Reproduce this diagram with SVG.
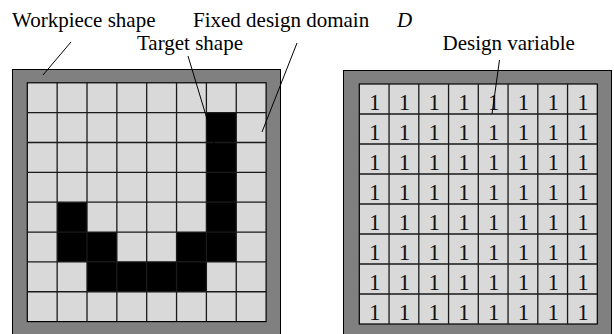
<svg xmlns="http://www.w3.org/2000/svg" width="614" height="334" viewBox="0 0 614 334">
<style>
text{font-family:'Liberation Serif',serif}
.lbl{font-size:21px;fill:#000}
.num{font-size:23px;fill:#111;text-anchor:middle}
.frame{fill:#808080;stroke:#000;stroke-width:1}
.cells{fill:#d9d9d9;stroke:#000;stroke-width:1.2}
.grid{fill:none;stroke:#1a1a1a;stroke-width:1.3}
.blk{fill:#000}
.lead{fill:none;stroke:#000;stroke-width:1}
</style>
<rect width="614" height="334" fill="#fff"/>
<g id="workpiece-domain">
  <rect class="frame" x="12.5" y="69.5" width="268" height="272"/>
  <g transform="translate(27.3,82.8)">
    <rect class="cells" x="0" y="0" width="238.8" height="238.8"/>
    <g id="target-shape">
      <rect class="blk" x="179.1" y="29.85" width="29.85" height="149.25"/>
      <rect class="blk" x="29.85" y="119.4" width="29.85" height="59.7"/>
      <rect class="blk" x="59.7" y="149.25" width="29.85" height="29.85"/>
      <rect class="blk" x="149.25" y="149.25" width="29.85" height="29.85"/>
      <rect class="blk" x="59.7" y="179.1" width="119.4" height="29.85"/>
    </g>
    <path class="grid" d="M29.85 0V238.8M59.7 0V238.8M89.55 0V238.8M119.4 0V238.8M149.25 0V238.8M179.1 0V238.8M208.95 0V238.8M0 29.85H238.8M0 59.7H238.8M0 89.55H238.8M0 119.4H238.8M0 149.25H238.8M0 179.1H238.8M0 208.95H238.8"/>
  </g>
</g>
<g id="design-variables">
  <rect class="frame" x="343.5" y="70.5" width="268" height="272"/>
  <g transform="translate(359.3,84)">
    <rect class="cells" x="0" y="0" width="238" height="240"/>
    <path class="grid" d="M29.75 0V240M59.5 0V240M89.25 0V240M119 0V240M148.75 0V240M178.5 0V240M208.25 0V240M0 30H238M0 60H238M0 90H238M0 120H238M0 150H238M0 180H238M0 210H238"/>
    <g id="values">
      <text class="num" x="15.4" y="26">1</text><text class="num" x="45.15" y="26">1</text><text class="num" x="74.9" y="26">1</text><text class="num" x="104.65" y="26">1</text><text class="num" x="134.4" y="26">1</text><text class="num" x="164.15" y="26">1</text><text class="num" x="193.9" y="26">1</text><text class="num" x="223.65" y="26">1</text>
      <text class="num" x="15.4" y="56">1</text><text class="num" x="45.15" y="56">1</text><text class="num" x="74.9" y="56">1</text><text class="num" x="104.65" y="56">1</text><text class="num" x="134.4" y="56">1</text><text class="num" x="164.15" y="56">1</text><text class="num" x="193.9" y="56">1</text><text class="num" x="223.65" y="56">1</text>
      <text class="num" x="15.4" y="86">1</text><text class="num" x="45.15" y="86">1</text><text class="num" x="74.9" y="86">1</text><text class="num" x="104.65" y="86">1</text><text class="num" x="134.4" y="86">1</text><text class="num" x="164.15" y="86">1</text><text class="num" x="193.9" y="86">1</text><text class="num" x="223.65" y="86">1</text>
      <text class="num" x="15.4" y="116">1</text><text class="num" x="45.15" y="116">1</text><text class="num" x="74.9" y="116">1</text><text class="num" x="104.65" y="116">1</text><text class="num" x="134.4" y="116">1</text><text class="num" x="164.15" y="116">1</text><text class="num" x="193.9" y="116">1</text><text class="num" x="223.65" y="116">1</text>
      <text class="num" x="15.4" y="146">1</text><text class="num" x="45.15" y="146">1</text><text class="num" x="74.9" y="146">1</text><text class="num" x="104.65" y="146">1</text><text class="num" x="134.4" y="146">1</text><text class="num" x="164.15" y="146">1</text><text class="num" x="193.9" y="146">1</text><text class="num" x="223.65" y="146">1</text>
      <text class="num" x="15.4" y="176">1</text><text class="num" x="45.15" y="176">1</text><text class="num" x="74.9" y="176">1</text><text class="num" x="104.65" y="176">1</text><text class="num" x="134.4" y="176">1</text><text class="num" x="164.15" y="176">1</text><text class="num" x="193.9" y="176">1</text><text class="num" x="223.65" y="176">1</text>
      <text class="num" x="15.4" y="206">1</text><text class="num" x="45.15" y="206">1</text><text class="num" x="74.9" y="206">1</text><text class="num" x="104.65" y="206">1</text><text class="num" x="134.4" y="206">1</text><text class="num" x="164.15" y="206">1</text><text class="num" x="193.9" y="206">1</text><text class="num" x="223.65" y="206">1</text>
      <text class="num" x="15.4" y="236">1</text><text class="num" x="45.15" y="236">1</text><text class="num" x="74.9" y="236">1</text><text class="num" x="104.65" y="236">1</text><text class="num" x="134.4" y="236">1</text><text class="num" x="164.15" y="236">1</text><text class="num" x="193.9" y="236">1</text><text class="num" x="223.65" y="236">1</text>
    </g>
  </g>
</g>
<g id="label-workpiece"><text class="lbl" x="12" y="27">Workpiece shape</text></g>
<g id="label-fixed"><text class="lbl" x="193" y="27">Fixed design domain</text><text class="lbl" x="397" y="27" font-style="italic">D</text></g>
<g id="label-target"><text class="lbl" x="137" y="50">Target shape</text></g>
<g id="label-variable"><text class="lbl" x="442.5" y="50">Design variable</text></g>
<g id="connectors">
  <line class="lead" x1="71" y1="42" x2="43" y2="75"/>
  <line class="lead" x1="188" y1="56" x2="218.5" y2="157"/>
  <line class="lead" x1="297" y1="43" x2="262" y2="132"/>
  <line class="lead" x1="499.5" y1="60" x2="492" y2="114"/>
</g>
</svg>
